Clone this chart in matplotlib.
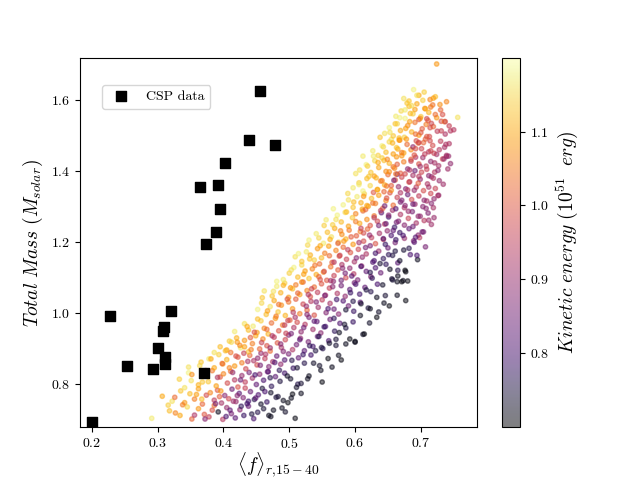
import numpy as np
import matplotlib
matplotlib.use('Agg')
import matplotlib.pyplot as plt

plt.rcParams['font.family'] = 'serif'
plt.rcParams['font.serif'] = ['cmr10', 'DejaVu Serif']
plt.rcParams['mathtext.fontset'] = 'cm'
plt.rcParams['axes.formatter.use_mathtext'] = True

# CSP observed objects
csp_f = [0.200, 0.227, 0.253, 0.293, 0.300, 0.308, 0.309, 0.311, 0.311, 0.321,
         0.364, 0.374, 0.371, 0.389, 0.392, 0.394, 0.403, 0.439, 0.455, 0.479]
csp_mass = [0.693, 0.991, 0.851, 0.842, 0.901, 0.949, 0.960, 0.876, 0.856, 1.006,
            1.355, 1.194, 0.831, 1.228, 1.361, 1.293, 1.423, 1.487, 1.625, 1.473]

# model grid, one line per mass slice
model_f = [
    0.291, 0.318, 0.327, 0.334, 0.345, 0.352, 0.362, 0.371, 0.378, 0.386, 0.392, 0.399, 0.405, 0.412, 0.418, 0.425, 0.431, 0.438, 0.446, 0.452, 0.461, 0.472, 0.494, 0.509,
    0.307, 0.322, 0.335, 0.341, 0.349, 0.356, 0.362, 0.368, 0.374, 0.380, 0.386, 0.391, 0.397, 0.402, 0.408, 0.413, 0.419, 0.424, 0.430, 0.436, 0.441, 0.447, 0.453, 0.459, 0.466, 0.472, 0.480, 0.491, 0.505, 0.518,
    0.333, 0.347, 0.351, 0.362, 0.370, 0.377, 0.383, 0.389, 0.395, 0.400, 0.406, 0.411, 0.417, 0.422, 0.428, 0.433, 0.439, 0.444, 0.450, 0.455, 0.461, 0.467, 0.473, 0.479, 0.486, 0.493, 0.502, 0.513, 0.530, 0.550,
    0.347, 0.366, 0.378, 0.386, 0.393, 0.399, 0.405, 0.411, 0.417, 0.422, 0.428, 0.434, 0.440, 0.446, 0.451, 0.457, 0.463, 0.469, 0.475, 0.481, 0.487, 0.493, 0.499, 0.506, 0.514, 0.523, 0.533, 0.546, 0.565, 0.579,
    0.395, 0.405, 0.412, 0.420, 0.426, 0.432, 0.438, 0.444, 0.449, 0.455, 0.460, 0.466, 0.471, 0.477, 0.482, 0.488, 0.494, 0.499, 0.505, 0.511, 0.517, 0.523, 0.529, 0.536, 0.543, 0.551, 0.560, 0.571, 0.586, 0.600,
    0.421, 0.432, 0.438, 0.445, 0.451, 0.457, 0.462, 0.468, 0.473, 0.479, 0.484, 0.490, 0.495, 0.501, 0.507, 0.512, 0.518, 0.524, 0.530, 0.536, 0.542, 0.548, 0.555, 0.562, 0.569, 0.577, 0.586, 0.597, 0.612, 0.633,
    0.452, 0.458, 0.465, 0.471, 0.477, 0.483, 0.488, 0.494, 0.499, 0.505, 0.510, 0.516, 0.521, 0.527, 0.533, 0.538, 0.544, 0.550, 0.556, 0.562, 0.568, 0.575, 0.582, 0.590, 0.598, 0.608, 0.620, 0.636, 0.644, 0.677,
    0.462, 0.474, 0.481, 0.487, 0.493, 0.499, 0.505, 0.510, 0.516, 0.521, 0.527, 0.532, 0.538, 0.543, 0.549, 0.555, 0.561, 0.567, 0.573, 0.579, 0.585, 0.592, 0.599, 0.607, 0.615, 0.624, 0.634, 0.646, 0.664, 0.680,
    0.491, 0.500, 0.507, 0.513, 0.519, 0.524, 0.530, 0.535, 0.541, 0.546, 0.552, 0.557, 0.563, 0.568, 0.574, 0.580, 0.586, 0.592, 0.598, 0.604, 0.610, 0.617, 0.624, 0.631, 0.639, 0.647, 0.656, 0.665, 0.673, 0.676,
    0.509, 0.519, 0.526, 0.532, 0.538, 0.543, 0.549, 0.554, 0.560, 0.565, 0.571, 0.576, 0.582, 0.587, 0.593, 0.599, 0.605, 0.611, 0.617, 0.623, 0.629, 0.636, 0.643, 0.650, 0.657, 0.665, 0.674, 0.684, 0.695, 0.707,
    0.530, 0.545, 0.552, 0.558, 0.564, 0.569, 0.575, 0.580, 0.586, 0.591, 0.597, 0.602, 0.608, 0.613, 0.619, 0.625, 0.631, 0.637, 0.643, 0.649, 0.655, 0.661, 0.668, 0.675, 0.682, 0.689, 0.696, 0.702, 0.698, 0.690,
    0.556, 0.566, 0.573, 0.579, 0.585, 0.590, 0.596, 0.601, 0.607, 0.612, 0.618, 0.623, 0.629, 0.634, 0.640, 0.645, 0.651, 0.657, 0.663, 0.669, 0.675, 0.681, 0.687, 0.693, 0.699, 0.705, 0.711, 0.716, 0.720, 0.660,
    0.582, 0.590, 0.597, 0.603, 0.609, 0.614, 0.620, 0.625, 0.631, 0.636, 0.642, 0.647, 0.653, 0.658, 0.664, 0.669, 0.675, 0.680, 0.686, 0.691, 0.697, 0.703, 0.709, 0.715, 0.720, 0.726, 0.611, 0.628, 0.645, 0.662,
    0.597, 0.606, 0.612, 0.618, 0.623, 0.629, 0.634, 0.639, 0.645, 0.650, 0.655, 0.661, 0.666, 0.671, 0.677, 0.682, 0.688, 0.693, 0.699, 0.704, 0.710, 0.716, 0.722, 0.728, 0.632, 0.648, 0.664, 0.680, 0.696, 0.712,
    0.607, 0.617, 0.624, 0.630, 0.636, 0.641, 0.647, 0.652, 0.658, 0.663, 0.669, 0.674, 0.680, 0.685, 0.691, 0.697, 0.703, 0.709, 0.715, 0.721, 0.727, 0.733, 0.739, 0.745, 0.644, 0.660, 0.676, 0.692, 0.708, 0.741,
    0.627, 0.635, 0.641, 0.647, 0.652, 0.658, 0.663, 0.668, 0.674, 0.679, 0.685, 0.690, 0.696, 0.701, 0.707, 0.712, 0.718, 0.724, 0.730, 0.736, 0.742, 0.655, 0.671, 0.688, 0.704, 0.720, 0.738, 0.665, 0.693, 0.715,
    0.645, 0.652, 0.658, 0.664, 0.669, 0.675, 0.680, 0.686, 0.691, 0.697, 0.702, 0.708, 0.713, 0.719, 0.725, 0.731, 0.737, 0.743, 0.750, 0.667, 0.683, 0.700, 0.716, 0.736,
    0.662, 0.670, 0.676, 0.682, 0.688, 0.694, 0.700, 0.706, 0.712, 0.718, 0.724, 0.730, 0.739, 0.756, 0.679, 0.697, 0.715, 0.733, 0.691, 0.709,
    0.674, 0.682, 0.689, 0.697, 0.705, 0.714, 0.722, 0.724,
]
model_mass = [
    0.704, 0.725, 0.719, 0.712, 0.736, 0.702, 0.731, 0.715, 0.708, 0.740, 0.722, 0.701, 0.734, 0.717, 0.705, 0.728, 0.712, 0.738, 0.703, 0.721, 0.731, 0.709, 0.722, 0.704,
    0.766, 0.752, 0.781, 0.748, 0.773, 0.758, 0.787, 0.744, 0.769, 0.776, 0.755, 0.783, 0.747, 0.768, 0.759, 0.786, 0.751, 0.774, 0.762, 0.745, 0.779, 0.757, 0.770, 0.788, 0.750, 0.776, 0.763, 0.754, 0.772, 0.774,
    0.814, 0.832, 0.810, 0.798, 0.826, 0.807, 0.838, 0.795, 0.820, 0.829, 0.803, 0.836, 0.812, 0.792, 0.824, 0.806, 0.833, 0.817, 0.799, 0.828, 0.811, 0.835, 0.794, 0.821, 0.808, 0.831, 0.815, 0.800, 0.823, 0.806,
    0.848, 0.862, 0.871, 0.846, 0.883, 0.857, 0.869, 0.889, 0.851, 0.876, 0.860, 0.843, 0.881, 0.866, 0.854, 0.887, 0.872, 0.849, 0.863, 0.879, 0.856, 0.868, 0.885, 0.845, 0.874, 0.859, 0.882, 0.852, 0.848, 0.868,
    0.905, 0.896, 0.918, 0.930, 0.902, 0.923, 0.891, 0.914, 0.936, 0.899, 0.927, 0.908, 0.893, 0.932, 0.916, 0.903, 0.925, 0.938, 0.897, 0.911, 0.929, 0.894, 0.919, 0.906, 0.934, 0.900, 0.922, 0.909, 0.913, 0.920,
    0.918, 0.970, 0.952, 0.963, 0.945, 0.978, 0.957, 0.941, 0.972, 0.985, 0.950, 0.966, 0.943, 0.980, 0.959, 0.974, 0.947, 0.968, 0.988, 0.954, 0.976, 0.944, 0.962, 0.982, 0.949, 0.971, 0.958, 0.975, 0.940, 0.988,
    1.010, 1.028, 0.996, 1.018, 1.035, 1.003, 1.022, 0.993, 1.031, 1.012, 1.039, 0.998, 1.025, 1.008, 1.033, 0.994, 1.016, 1.037, 1.001, 1.027, 1.011, 0.997, 1.034, 1.020, 1.005, 1.030, 1.014, 1.003, 1.028, 1.035,
    1.062, 1.048, 1.075, 1.057, 1.084, 1.044, 1.068, 1.079, 1.052, 1.087, 1.063, 1.046, 1.073, 1.058, 1.082, 1.050, 1.070, 1.089, 1.055, 1.077, 1.047, 1.066, 1.085, 1.053, 1.072, 1.060, 1.081, 1.049, 1.088, 1.090,
    1.094, 1.112, 1.128, 1.101, 1.135, 1.118, 1.097, 1.124, 1.108, 1.138, 1.115, 1.092, 1.130, 1.105, 1.121, 1.136, 1.099, 1.126, 1.110, 1.093, 1.132, 1.117, 1.102, 1.127, 1.113, 1.137, 1.096, 1.120, 1.091, 1.120,
    1.158, 1.145, 1.172, 1.163, 1.149, 1.181, 1.155, 1.168, 1.188, 1.142, 1.176, 1.160, 1.185, 1.151, 1.170, 1.144, 1.179, 1.157, 1.166, 1.189, 1.147, 1.174, 1.153, 1.183, 1.162, 1.141, 1.177, 1.164, 1.150, 1.186,
    1.205, 1.211, 1.196, 1.227, 1.214, 1.238, 1.199, 1.221, 1.208, 1.233, 1.193, 1.217, 1.229, 1.202, 1.236, 1.212, 1.195, 1.224, 1.207, 1.231, 1.218, 1.198, 1.226, 1.210, 1.237, 1.203, 1.219, 1.228, 1.212, 1.199,
    1.262, 1.248, 1.275, 1.256, 1.283, 1.244, 1.268, 1.279, 1.252, 1.287, 1.263, 1.246, 1.273, 1.258, 1.282, 1.250, 1.270, 1.289, 1.255, 1.277, 1.247, 1.266, 1.285, 1.253, 1.272, 1.260, 1.281, 1.249, 1.268, 1.241,
    1.304, 1.318, 1.297, 1.327, 1.310, 1.335, 1.300, 1.322, 1.308, 1.331, 1.294, 1.316, 1.338, 1.303, 1.325, 1.312, 1.296, 1.333, 1.319, 1.306, 1.329, 1.299, 1.315, 1.336, 1.321, 1.330, 1.292, 1.339, 1.301, 1.293,
    1.352, 1.366, 1.343, 1.378, 1.358, 1.385, 1.347, 1.371, 1.360, 1.389, 1.345, 1.374, 1.355, 1.382, 1.349, 1.368, 1.387, 1.354, 1.376, 1.344, 1.363, 1.383, 1.350, 1.372, 1.380, 1.357, 1.390, 1.346, 1.365, 1.386,
    1.402, 1.417, 1.395, 1.428, 1.409, 1.436, 1.398, 1.421, 1.411, 1.439, 1.393, 1.425, 1.405, 1.432, 1.400, 1.419, 1.437, 1.404, 1.426, 1.396, 1.414, 1.433, 1.440, 1.420, 1.429, 1.407, 1.391, 1.438, 1.413, 1.405,
    1.456, 1.443, 1.470, 1.452, 1.481, 1.447, 1.465, 1.486, 1.450, 1.474, 1.459, 1.444, 1.478, 1.462, 1.489, 1.453, 1.471, 1.446, 1.483, 1.466, 1.441, 1.488, 1.442, 1.467, 1.479, 1.449, 1.474, 1.461, 1.484, 1.456,
    1.505, 1.521, 1.498, 1.532, 1.513, 1.494, 1.527, 1.509, 1.536, 1.500, 1.518, 1.530, 1.496, 1.524, 1.511, 1.539, 1.503, 1.526, 1.515, 1.492, 1.538, 1.507, 1.533, 1.538,
    1.553, 1.568, 1.547, 1.581, 1.560, 1.588, 1.552, 1.575, 1.564, 1.585, 1.549, 1.571, 1.594, 1.550, 1.590, 1.544, 1.579, 1.558, 1.572, 1.546,
    1.603, 1.596, 1.628, 1.612, 1.621, 1.600, 1.608, 1.700,
]
model_ke = [
    1.17, 1.12, 1.06, 1.10, 1.15, 1.02, 1.08, 1.00, 0.96, 1.04, 0.72, 0.94, 0.90, 0.86, 0.82, 0.88, 0.78, 0.84, 0.80, 0.76, 0.74, 0.72, 0.73, 0.71,
    1.10, 1.16, 1.13, 1.08, 1.12, 1.05, 1.09, 1.02, 0.98, 1.06, 0.95, 1.00, 0.92, 0.88, 0.97, 0.85, 0.90, 0.82, 0.87, 0.79, 0.84, 0.76, 0.81, 0.74, 0.78, 0.73, 0.75, 0.72, 0.71, 0.72,
    1.14, 1.18, 1.16, 1.11, 1.07, 1.13, 1.04, 1.09, 1.01, 1.06, 0.98, 1.03, 0.94, 0.99, 0.90, 0.95, 0.86, 0.91, 0.83, 0.88, 0.80, 0.85, 0.77, 0.82, 0.75, 0.79, 0.73, 0.76, 0.72, 0.71,
    1.16, 1.13, 1.17, 1.10, 1.14, 1.07, 1.11, 1.04, 1.08, 1.00, 1.05, 0.97, 1.02, 0.93, 0.98, 0.90, 0.95, 0.87, 0.92, 0.84, 0.89, 0.81, 0.86, 0.78, 0.83, 0.76, 0.79, 0.73, 0.72, 0.71,
    1.12, 1.09, 1.15, 1.11, 1.17, 1.08, 1.13, 1.05, 1.10, 1.02, 1.06, 0.99, 1.03, 0.95, 1.00, 0.92, 0.97, 0.88, 0.93, 0.85, 0.89, 0.82, 0.86, 0.79, 0.83, 0.76, 0.80, 0.74, 0.72, 0.71,
    1.08, 1.16, 1.12, 1.17, 1.09, 1.14, 1.06, 1.11, 1.03, 1.08, 1.00, 1.05, 0.96, 1.01, 0.93, 0.98, 0.89, 0.94, 0.86, 0.91, 0.83, 0.88, 0.80, 0.84, 0.77, 0.81, 0.75, 0.78, 0.73, 0.71,
    1.18, 1.15, 1.12, 1.16, 1.10, 1.13, 1.07, 1.11, 1.04, 1.08, 1.01, 1.05, 0.97, 1.02, 0.94, 0.99, 0.91, 0.95, 0.87, 0.92, 0.84, 0.88, 0.81, 0.85, 0.78, 0.82, 0.75, 0.73, 0.72, 0.71,
    1.16, 1.13, 1.17, 1.11, 1.14, 1.08, 1.12, 1.05, 1.09, 1.02, 1.06, 0.99, 1.03, 0.95, 1.00, 0.92, 0.96, 0.88, 0.93, 0.85, 0.89, 0.82, 0.86, 0.79, 0.83, 0.76, 0.80, 0.74, 0.72, 0.71,
    1.17, 1.14, 1.18, 1.12, 1.15, 1.09, 1.13, 1.06, 1.10, 1.03, 1.07, 1.00, 1.04, 0.96, 1.01, 0.93, 0.97, 0.89, 0.94, 0.86, 0.90, 0.83, 0.87, 0.80, 0.84, 0.77, 0.74, 0.76, 0.72, 0.71,
    1.16, 1.13, 1.17, 1.11, 1.14, 1.08, 1.12, 1.05, 1.09, 1.02, 1.06, 0.99, 1.03, 0.96, 1.00, 0.92, 0.97, 0.89, 0.93, 0.86, 0.80, 0.90, 0.77, 0.84, 0.75, 0.82, 0.74, 0.80, 0.72, 0.86,
    1.18, 1.15, 1.17, 1.12, 1.16, 1.10, 1.13, 1.07, 1.11, 1.04, 1.08, 1.01, 1.05, 0.98, 1.02, 0.95, 0.99, 0.92, 0.96, 0.89, 0.80, 0.86, 0.78, 0.90, 0.83, 0.87, 0.88, 0.85, 0.94, 0.82,
    1.17, 1.14, 1.18, 1.12, 1.15, 1.09, 1.13, 1.06, 1.10, 1.03, 1.07, 1.00, 1.04, 0.97, 0.82, 0.94, 0.79, 0.91, 0.85, 0.93, 0.88, 0.96, 0.86, 0.92, 0.89, 0.94, 0.87, 0.91, 0.90, 0.78,
    1.18, 1.16, 1.13, 1.17, 1.11, 1.14, 1.08, 1.12, 1.05, 1.09, 1.02, 1.06, 0.99, 1.03, 0.96, 0.86, 0.93, 0.84, 0.98, 0.90, 0.95, 0.88, 0.92, 0.97, 0.89, 0.94, 1.10, 1.00, 0.85, 0.82,
    1.17, 1.14, 1.18, 1.12, 1.15, 1.09, 1.13, 1.06, 1.10, 1.03, 1.07, 1.00, 0.90, 0.97, 0.87, 0.99, 0.92, 0.95, 0.89, 0.98, 0.93, 0.91, 0.96, 0.90, 1.11, 1.04, 0.85, 0.94, 1.01, 0.88,
    1.16, 1.18, 1.13, 1.15, 1.10, 1.14, 1.07, 1.11, 1.04, 1.08, 1.01, 1.05, 0.88, 1.02, 0.85, 0.99, 0.91, 0.96, 0.89, 0.94, 0.92, 0.97, 0.90, 0.89, 1.12, 1.06, 0.98, 0.93, 0.95, 0.91,
    1.17, 1.14, 1.18, 1.12, 1.15, 1.09, 1.13, 1.06, 1.10, 1.03, 1.07, 1.00, 1.04, 0.97, 1.01, 0.94, 0.98, 0.91, 0.95, 0.92, 0.90, 1.16, 1.08, 0.89, 1.02, 0.96, 0.93, 1.11, 0.99, 0.97,
    1.16, 1.18, 1.13, 1.15, 1.10, 1.14, 1.07, 1.11, 1.04, 1.08, 1.01, 1.05, 0.98, 1.02, 0.95, 0.99, 0.93, 0.96, 0.94, 1.12, 1.09, 1.00, 0.97, 1.06,
    1.17, 1.15, 1.18, 1.12, 1.14, 1.10, 1.13, 1.07, 1.11, 1.04, 1.08, 1.02, 1.06, 1.16, 1.13, 1.00, 1.05, 0.99, 1.09, 0.97,
    1.16, 1.13, 1.18, 1.10, 1.14, 1.06, 1.12, 1.08,
]

# more model runs, filling in between the slices
extra_f = [
    0.338, 0.356, 0.367, 0.383, 0.396, 0.404, 0.415, 0.427, 0.433, 0.443, 0.449, 0.457, 0.463, 0.476, 0.483, 0.498, 0.511, 0.341, 0.359, 0.372, 0.388, 0.410, 0.421, 0.438, 0.469, 0.489, 0.503, 0.316, 0.326, 0.394,
    0.352, 0.364, 0.373, 0.381, 0.391, 0.398, 0.403, 0.414, 0.419, 0.426, 0.437, 0.442, 0.448, 0.456, 0.464, 0.471, 0.478, 0.485, 0.491, 0.497, 0.504, 0.512, 0.521, 0.528, 0.537, 0.548, 0.559, 0.575, 0.368, 0.386, 0.409, 0.431, 0.452, 0.468, 0.518, 0.540,
    0.409, 0.417, 0.425, 0.436, 0.441, 0.452, 0.458, 0.466, 0.474, 0.480, 0.487, 0.493, 0.503, 0.509, 0.516, 0.522, 0.531, 0.538, 0.545, 0.553, 0.561, 0.568, 0.576, 0.584, 0.592, 0.600, 0.614, 0.622, 0.432, 0.447, 0.471, 0.498, 0.527, 0.549, 0.571, 0.608,
    0.459, 0.467, 0.476, 0.484, 0.491, 0.497, 0.506, 0.513, 0.519, 0.526, 0.534, 0.541, 0.547, 0.554, 0.559, 0.566, 0.572, 0.579, 0.586, 0.593, 0.601, 0.609, 0.617, 0.626, 0.633, 0.642, 0.652, 0.664, 0.671, 0.657, 0.481, 0.502, 0.529, 0.563, 0.597, 0.623,
    0.503, 0.514, 0.522, 0.531, 0.539, 0.547, 0.553, 0.561, 0.568, 0.574, 0.581, 0.589, 0.595, 0.602, 0.609, 0.616, 0.623, 0.631, 0.638, 0.646, 0.653, 0.661, 0.668, 0.677, 0.682, 0.694, 0.528, 0.545, 0.577, 0.606, 0.627, 0.651, 0.665, 0.585,
    0.541, 0.553, 0.562, 0.571, 0.578, 0.587, 0.594, 0.601, 0.609, 0.616, 0.622, 0.629, 0.636, 0.643, 0.651, 0.658, 0.666, 0.673, 0.681, 0.688, 0.696, 0.704, 0.712, 0.719, 0.567, 0.583, 0.613, 0.639, 0.662, 0.692, 0.708, 0.647,
    0.589, 0.598, 0.606, 0.613, 0.621, 0.627, 0.634, 0.641, 0.648, 0.655, 0.662, 0.669, 0.676, 0.683, 0.690, 0.697, 0.705, 0.712, 0.719, 0.727, 0.734, 0.601, 0.618, 0.652, 0.671, 0.688, 0.701, 0.716, 0.659, 0.644,
    0.619, 0.628, 0.635, 0.643, 0.649, 0.657, 0.664, 0.671, 0.678, 0.685, 0.692, 0.699, 0.706, 0.714, 0.721, 0.728, 0.735, 0.743, 0.739, 0.612, 0.638, 0.667, 0.683, 0.709, 0.726, 0.697,
    0.653, 0.661, 0.668, 0.677, 0.684, 0.692, 0.699, 0.707, 0.714, 0.722, 0.729, 0.737, 0.745, 0.703, 0.686, 0.719, 0.731, 0.676, 0.711, 0.694,
]
extra_mass = [
    0.742, 0.713, 0.758, 0.727, 0.781, 0.709, 0.752, 0.738, 0.789, 0.716, 0.761, 0.744, 0.779, 0.727, 0.765, 0.748, 0.791, 0.790, 0.771, 0.702, 0.745, 0.727, 0.768, 0.752, 0.712, 0.733, 0.761, 0.741, 0.763, 0.765,
    0.827, 0.852, 0.838, 0.871, 0.819, 0.858, 0.894, 0.833, 0.879, 0.812, 0.864, 0.897, 0.826, 0.853, 0.884, 0.818, 0.861, 0.839, 0.892, 0.823, 0.867, 0.846, 0.883, 0.815, 0.859, 0.839, 0.872, 0.881, 0.806, 0.889, 0.846, 0.887, 0.873, 0.835, 0.802, 0.894,
    0.921, 0.948, 0.909, 0.962, 0.931, 0.983, 0.917, 0.954, 0.936, 0.991, 0.913, 0.966, 0.942, 0.988, 0.925, 0.959, 0.908, 0.977, 0.934, 0.961, 0.915, 0.985, 0.945, 0.968, 0.927, 0.918, 0.941, 0.972, 0.905, 0.946, 0.902, 0.979, 0.996, 0.903, 0.926, 0.993,
    1.043, 1.006, 1.061, 1.024, 1.078, 1.039, 1.002, 1.056, 1.087, 1.019, 1.068, 1.031, 1.094, 1.049, 1.012, 1.074, 1.038, 1.092, 1.009, 1.057, 1.081, 1.026, 1.065, 1.098, 1.044, 1.079, 1.020, 1.050, 1.088, 1.093, 1.089, 1.071, 1.052, 1.091, 1.033, 1.012,
    1.121, 1.167, 1.109, 1.152, 1.134, 1.189, 1.117, 1.161, 1.143, 1.196, 1.126, 1.178, 1.104, 1.155, 1.131, 1.184, 1.114, 1.168, 1.139, 1.193, 1.123, 1.174, 1.147, 1.116, 1.182, 1.162, 1.191, 1.102, 1.162, 1.198, 1.143, 1.164, 1.104, 1.112,
    1.223, 1.246, 1.207, 1.263, 1.231, 1.284, 1.214, 1.257, 1.238, 1.291, 1.219, 1.268, 1.246, 1.209, 1.275, 1.232, 1.258, 1.218, 1.286, 1.243, 1.272, 1.228, 1.261, 1.296, 1.293, 1.202, 1.225, 1.288, 1.206, 1.213, 1.294, 1.251,
    1.336, 1.312, 1.361, 1.328, 1.384, 1.309, 1.347, 1.372, 1.323, 1.358, 1.391, 1.338, 1.302, 1.369, 1.345, 1.384, 1.317, 1.354, 1.379, 1.331, 1.362, 1.392, 1.302, 1.397, 1.317, 1.306, 1.396, 1.308, 1.373, 1.341,
    1.413, 1.441, 1.423, 1.467, 1.432, 1.478, 1.418, 1.451, 1.489, 1.427, 1.462, 1.412, 1.447, 1.484, 1.422, 1.459, 1.433, 1.476, 1.443, 1.441, 1.494, 1.486, 1.402, 1.496, 1.401, 1.479,
    1.508, 1.532, 1.549, 1.519, 1.561, 1.503, 1.547, 1.574, 1.521, 1.558, 1.586, 1.538, 1.512, 1.598, 1.583, 1.604, 1.512, 1.571, 1.541, 1.612,
]
extra_ke = [
    1.05, 0.93, 1.12, 0.99, 1.08, 0.80, 0.91, 0.77, 0.96, 0.75, 0.83, 0.73, 0.80, 0.72, 0.74, 0.71, 0.73, 1.16, 1.09, 0.88, 0.86, 0.83, 0.88, 0.79, 0.72, 0.72, 0.72, 1.14, 1.03, 1.01,
    1.07, 1.15, 0.98, 1.10, 0.93, 1.03, 1.12, 0.89, 0.99, 0.85, 0.92, 1.05, 0.80, 0.86, 0.93, 0.76, 0.81, 0.77, 0.87, 0.73, 0.76, 0.74, 0.78, 0.72, 0.73, 0.72, 0.71, 0.72, 1.13, 1.16, 1.06, 0.96, 0.89, 0.82, 0.74, 0.75,
    1.14, 1.17, 1.06, 1.10, 1.01, 1.12, 0.96, 1.03, 0.93, 1.05, 0.88, 0.95, 0.86, 0.92, 0.82, 0.85, 0.77, 0.83, 0.76, 0.78, 0.73, 0.77, 0.72, 0.73, 0.71, 0.72, 0.71, 0.73, 1.09, 0.99, 0.90, 0.97, 0.88, 0.75, 0.74, 0.72,
    1.13, 1.09, 1.16, 1.04, 1.11, 1.00, 0.94, 1.02, 1.07, 0.90, 0.97, 0.87, 0.99, 0.86, 0.80, 0.88, 0.79, 0.85, 0.74, 0.78, 0.80, 0.73, 0.75, 0.77, 0.72, 0.73, 0.71, 0.72, 0.71, 0.74, 1.18, 1.08, 0.93, 0.92, 0.76, 0.72,
    1.16, 1.18, 1.09, 1.13, 1.04, 1.10, 0.98, 1.03, 0.94, 1.01, 0.88, 0.95, 0.82, 0.87, 0.80, 0.85, 0.76, 0.79, 0.74, 0.78, 0.72, 0.75, 0.73, 0.71, 0.76, 0.80, 1.15, 1.02, 0.97, 0.91, 0.81, 0.77, 0.72, 0.86,
    1.17, 1.14, 1.11, 1.16, 1.06, 1.12, 1.01, 1.05, 0.96, 1.02, 0.90, 0.94, 0.86, 0.81, 0.88, 0.83, 0.87, 0.80, 0.90, 0.85, 0.89, 0.86, 0.91, 0.92, 1.18, 1.08, 0.98, 0.95, 0.78, 0.82, 0.88, 0.84,
    1.15, 1.12, 1.17, 1.08, 1.13, 1.04, 1.09, 1.05, 0.99, 1.01, 1.04, 0.93, 0.88, 0.95, 0.90, 0.94, 0.89, 0.92, 0.93, 0.90, 0.91, 1.16, 1.10, 1.07, 0.87, 0.85, 0.97, 0.88, 0.86, 1.02,
    1.14, 1.17, 1.10, 1.15, 1.06, 1.11, 1.01, 1.05, 1.08, 0.96, 0.99, 0.91, 0.95, 0.98, 0.92, 0.94, 0.90, 0.93, 0.92, 1.17, 1.13, 1.09, 0.93, 1.00, 0.89, 0.97,
    1.16, 1.13, 1.18, 1.09, 1.12, 1.03, 1.07, 1.10, 0.99, 1.03, 1.07, 0.97, 0.94, 1.14, 1.15, 1.09, 0.96, 1.17, 1.01, 1.16,
]

fig = plt.figure(figsize=(6.4, 4.8))
ax = plt.gca()

sc = ax.scatter(model_f + extra_f, model_mass + extra_mass, c=model_ke + extra_ke,
                cmap='inferno', vmin=0.7, vmax=1.2, s=10, alpha=0.5)
ax.scatter(csp_f, csp_mass, c='k', marker='s', s=60, label='CSP data')

cbar = plt.colorbar(sc)
cbar.set_label(r'$Kinetic\ energy\ (10^{51}\ \ erg)$', fontsize=14)
cbar.set_ticks([0.8, 0.9, 1.0, 1.1])

ax.set_xlim(0.182, 0.785)
ax.set_ylim(0.679, 1.718)
ax.set_xticks([0.2, 0.3, 0.4, 0.5, 0.6, 0.7])
ax.set_yticks([0.8, 1.0, 1.2, 1.4, 1.6])
ax.set_xlabel(r'$\langle f \rangle_{r{,}15-40}$', fontsize=14, labelpad=0)
ax.set_ylabel(r'$Total\ Mass\ (M_{solar})$', fontsize=14)
ax.legend(loc=(0.055, 0.862))

plt.savefig('out.png', dpi=100)
